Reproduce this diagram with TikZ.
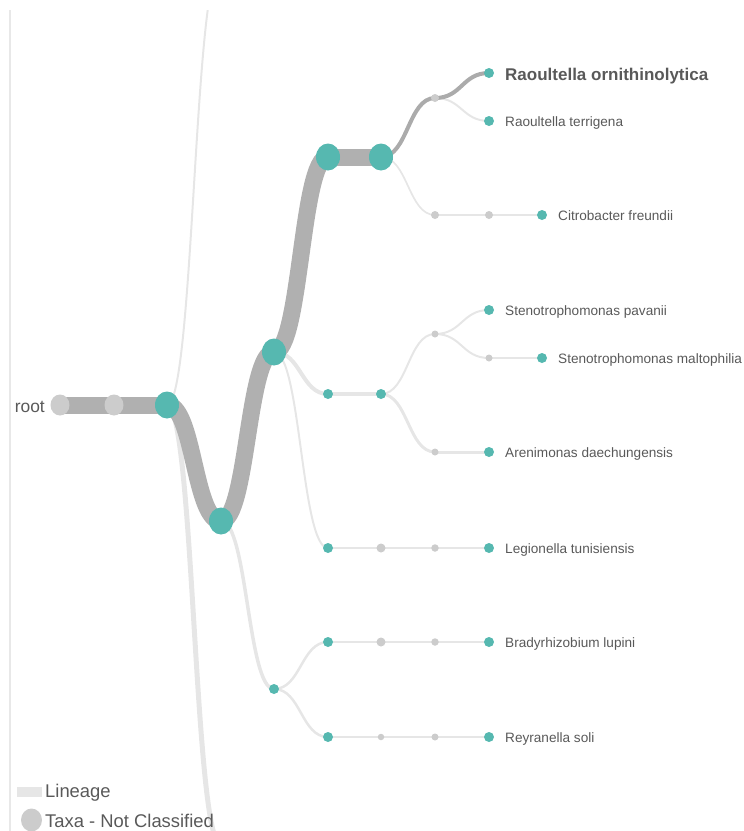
\documentclass[tikz,border=0pt]{standalone}
\usepackage{fontspec}
\setmainfont{Liberation Sans}
\usetikzlibrary{shapes.geometric,calc}
\pgfdeclarelayer{bg}
\pgfsetlayers{bg,main}
\definecolor{tealc}{HTML}{56B8B0}
\definecolor{thickgray}{HTML}{B0B0B0}
\definecolor{lightline}{HTML}{E6E6E6}
\definecolor{nodegray}{HTML}{CCCCCC}
\definecolor{midgray}{HTML}{ABABAB}
\definecolor{txt}{HTML}{595959}
\definecolor{borderc}{HTML}{E8E8E8}
\newcommand\lnk[3]{%
  \path ($(#2.center)!0.5!(#3.center)$) coordinate (lnkm);
  \draw[#1] (#2.center) .. controls (lnkm |- #2.center) and (lnkm |- #3.center) .. (#3.center);}
\begin{document}
\begin{tikzpicture}[x=1pt,y=-1pt,
  bigteal/.style={ellipse,fill=tealc,minimum width=24pt,minimum height=27pt,inner sep=0pt},
  rootdot/.style={ellipse,fill=nodegray,minimum width=19pt,minimum height=21pt,inner sep=0pt},
  smallteal/.style={circle,fill=tealc,minimum size=10pt,inner sep=0pt},
  graydot/.style={circle,fill=nodegray,minimum size=#1,inner sep=0pt},
  graydot/.default=8pt,
  lbl/.style={anchor=base west,text=txt,inner sep=0pt,font=\fontsize{13.6}{16}\selectfont},
  thick link/.style={draw=thickgray,line width=17pt},
  mid link/.style={draw=midgray,line width=4pt},
  light link/.style={draw=lightline,line width=#1},
  light link/.default=2pt]
\useasboundingbox (0,0) rectangle (744,831);
\clip (0,0) rectangle (744,831);
% border
\draw[borderc,line width=2pt] (10,10) -- (10,831);
% nodes
\node[rootdot] (n0) at (60,405) {};
\node[rootdot] (n1) at (114,405) {};
\node[bigteal] (n2) at (167,405) {};
\coordinate (top) at (221,-35);
\coordinate (bot) at (221,845);
\node[bigteal] (n3) at (221,521) {};
\node[bigteal] (n4) at (274,352) {};
\node[bigteal] (n5) at (328,157) {};
\node[bigteal] (n6) at (381,157) {};
\node[graydot=8pt] (n7) at (435,98) {};
\node[smallteal] (n8) at (489,73) {};
\node[graydot=8pt] (n10) at (435,215) {};
\node[graydot=8pt] (n11) at (489,215) {};
\node[smallteal] (n9) at (489,121) {};
\node[smallteal] (n12) at (542,215) {};
\node[smallteal] (n13) at (328,394) {};
\node[smallteal] (n14) at (381,394) {};
\node[graydot=7pt] (n15) at (435,334) {};
\node[smallteal] (n16) at (489,310) {};
\node[graydot=7pt] (n17) at (489,358) {};
\node[smallteal] (n18) at (542,358) {};
\node[graydot=7pt] (n19) at (435,452) {};
\node[smallteal] (n20) at (489,452) {};
\node[smallteal] (n21) at (328,548) {};
\node[graydot=9pt] (n22) at (381,548) {};
\node[graydot=7.5pt] (n23) at (435,548) {};
\node[smallteal] (n24) at (489,548) {};
\node[smallteal] (n25) at (274,689) {};
\node[smallteal] (n26) at (328,642) {};
\node[graydot=9pt] (n27) at (381,642) {};
\node[graydot=7.5pt] (n28) at (435,642) {};
\node[smallteal] (n29) at (489,642) {};
\node[smallteal] (n30) at (328,737) {};
\node[graydot=6.5pt] (n31) at (381,737) {};
\node[graydot=7pt] (n32) at (435,737) {};
\node[smallteal] (n33) at (489,737) {};
% links
\begin{pgfonlayer}{bg}
\clip (0,10) rectangle (744,831);
\lnk{light link=2pt}{n2}{top}
\lnk{light link=5pt}{n2}{bot}
\lnk{thick link}{n0}{n1}
\lnk{thick link}{n1}{n2}
\lnk{thick link}{n2}{n3}
\lnk{light link=3.5pt}{n3}{n25}
\lnk{light link=2pt}{n4}{n21}
\lnk{light link=4pt}{n4}{n13}
\lnk{thick link}{n3}{n4}
\lnk{thick link}{n4}{n5}
\lnk{thick link}{n5}{n6}
\lnk{light link=1.7pt}{n6}{n10}
\lnk{mid link}{n6}{n7}
\lnk{light link=2pt}{n7}{n9}
\lnk{mid link}{n7}{n8}
\lnk{light link=2pt}{n10}{n11}
\lnk{light link=2pt}{n11}{n12}
\lnk{light link=4pt}{n13}{n14}
\lnk{light link=2pt}{n14}{n15}
\lnk{light link=3pt}{n14}{n19}
\lnk{light link=2pt}{n15}{n16}
\lnk{light link=2pt}{n15}{n17}
\lnk{light link=2pt}{n17}{n18}
\lnk{light link=3pt}{n19}{n20}
\lnk{light link=2pt}{n21}{n22}
\lnk{light link=2pt}{n22}{n23}
\lnk{light link=2pt}{n23}{n24}
\lnk{light link=2.5pt}{n25}{n26}
\lnk{light link=2.5pt}{n25}{n30}
\lnk{light link=2pt}{n26}{n27}
\lnk{light link=2pt}{n27}{n28}
\lnk{light link=2pt}{n28}{n29}
\lnk{light link=1.7pt}{n30}{n31}
\lnk{light link=1.7pt}{n31}{n32}
\lnk{light link=1.7pt}{n32}{n33}
\end{pgfonlayer}
% labels
\node[lbl,anchor=base east,font=\fontsize{17.4}{20}\selectfont] (lroot) at (45,412.5) {root};
\node[lbl,font=\bfseries\fontsize{17}{20}\selectfont] (l8) at (505,80) {Raoultella ornithinolytica};
\node[lbl] (l9) at (505,126.5) {Raoultella terrigena};
\node[lbl] (l12) at (558,220.5) {Citrobacter freundii};
\node[lbl] (l16) at (505,315.5) {Stenotrophomonas pavanii};
\node[lbl] (l18) at (558,363.5) {Stenotrophomonas maltophilia};
\node[lbl] (l20) at (505,457.5) {Arenimonas daechungensis};
\node[lbl] (l24) at (505,553.5) {Legionella tunisiensis};
\node[lbl] (l29) at (505,647.5) {Bradyrhizobium lupini};
\node[lbl] (l33) at (505,742.5) {Reyranella soli};
% legend
\node[draw=none,fill=lightline,minimum width=25pt,minimum height=10pt,inner sep=0pt] (legline) at (29.5,792) {};
\node[lbl,font=\fontsize{18.4}{22}\selectfont] (leglbl1) at (45,797) {Lineage};
\node[ellipse,fill=nodegray,minimum width=21pt,minimum height=23pt,inner sep=0pt] (legdot) at (31.5,820) {};
\node[lbl,font=\fontsize{18.4}{22}\selectfont] (leglbl2) at (45,827) {Taxa - Not Classified};
\end{tikzpicture}
\end{document}
